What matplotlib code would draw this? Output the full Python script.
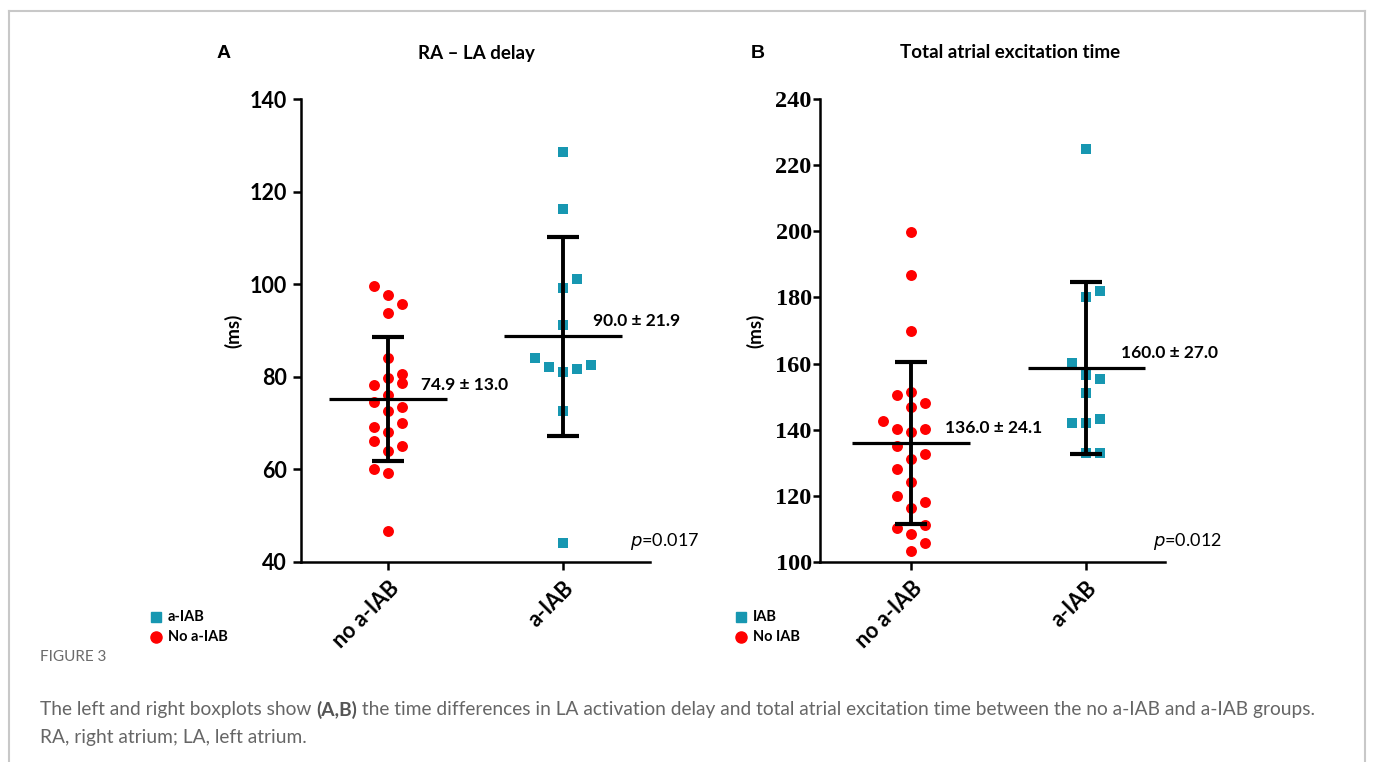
import matplotlib
matplotlib.use("Agg")
import matplotlib.pyplot as plt
import numpy as np

# ---------------- data ----------------
categories = ["no a-IAB", "a-IAB"]

# Panel A: RA - LA delay (ms)
a_no_vals = [99.6, 97.6, 95.7, 93.7, 84.1, 80.6, 79.7, 78.7, 78.2, 76.1, 74.6,
             73.5, 72.6, 70.0, 69.2, 68.1, 66.1, 65.1, 64.0, 60.1, 59.2, 46.6]
a_no_cols = [-1, 0, 1, 0, 0, 1, 0, 1, -1, 0, -1, 1, 0, 1, -1, 0, -1, 1, 0, -1, 0, 0]
a_iab_vals = [128.6, 116.2, 101.2, 99.1, 91.1, 84.1, 82.1, 82.6, 81.6, 81.1, 72.6, 44.1]
a_iab_cols = [0, 0, 1, 0, 0, -2, -1, 2, 1, 0, 0, 0]
a_means = [75.2, 88.8]
a_sds = [13.35, 21.5]
a_labels = ["74.9 ± 13.0", "90.0 ± 21.9"]
a_p = "0.017"

# Panel B: Total atrial excitation time (ms)
b_no_vals = [199.8, 186.9, 170.0, 150.5, 151.5, 148.0, 147.0, 142.7, 140.1, 139.4,
             140.1, 135.1, 132.7, 131.1, 128.1, 124.1, 120.1, 118.2, 116.2, 110.2,
             111.2, 108.6, 105.6, 103.2]
b_no_cols = [0, 0, 0, -1, 0, 1, 0, -2, -1, 0, 1, -1, 1, 0, -1, 0, -1, 1, 0, -1, 1, 0, 1, 0]
b_iab_vals = [224.8, 181.9, 180.0, 160.1, 156.5, 155.2, 151.0, 142.1, 142.1, 143.2, 133.1, 133.1]
b_iab_cols = [0, 1, 0, -1, 0, 1, 0, -1, 0, 1, 0, 1]
b_means = [135.9, 158.7]
b_sds = [24.5, 26.1]
b_labels = ["136.0 ± 24.1", "160.0 ± 27.0"]
b_p = "0.012"

RED = "#ff0000"
TEAL = "#1797b1"
SANS = ["Lato", "DejaVu Sans"]

W, H = 1375, 762
fig = plt.figure(figsize=(W / 100, H / 100), dpi=100)

# border (top, left, right only)
for xs, ys in (([9, 9], [762, 11]), ([9, 1365], [11, 11]), ([1365, 1365], [11, 762])):
    fig.lines.append(plt.Line2D([x / W for x in xs], [1 - y / H for y in ys],
                                color="#c8c8c8", linewidth=1.5,
                                transform=fig.transFigure))


def px_axes(x0, x1, ytop, ybot):
    return fig.add_axes([x0 / W, 1 - ybot / H, (x1 - x0) / W, (ybot - ytop) / H])


def draw_panel(ax, no_vals, no_cols, iab_vals, iab_cols, means, sds, ylim, yticks,
               tick_font, tick_size):
    step = 0.08
    ax.scatter(np.array(no_cols) * step + 0, no_vals, s=62, marker="o", color=RED,
               linewidths=0, zorder=2)
    ax.scatter(np.array(iab_cols) * step + 1, iab_vals, s=52, marker="s", color=TEAL,
               linewidths=0, zorder=2)
    for i, (m, sd) in enumerate(zip(means, sds)):
        ax.plot([i - 0.335, i + 0.335], [m, m], color="black", lw=2.3, zorder=3,
                solid_capstyle="butt")
        ax.plot([i, i], [m - sd, m + sd], color="black", lw=2.8, zorder=3,
                solid_capstyle="butt")
        for y in (m - sd, m + sd):
            ax.plot([i - 0.09, i + 0.09], [y, y], color="black", lw=3.0, zorder=3,
                    solid_capstyle="butt")
    ax.set_ylim(*ylim)
    ax.set_yticks(yticks)
    ax.set_xticks([0, 1])
    ax.set_xticklabels(categories, rotation=45, ha="right", va="top",
                       rotation_mode="anchor", fontsize=15.5, fontweight="bold",
                       family=SANS)
    for lab in ax.get_yticklabels():
        lab.set_family(tick_font)
        lab.set_fontsize(tick_size)
        lab.set_fontweight("bold")
    for s in ("top", "right"):
        ax.spines[s].set_visible(False)
    for s in ("left", "bottom"):
        ax.spines[s].set_linewidth(1.8)
    ax.tick_params(axis="both", width=1.8, length=6, pad=4)
    ax.tick_params(axis="x", pad=5)


# Panel A
axA = px_axes(301, 650, 99, 562)
axA.set_xlim(-0.497, 1.497)
draw_panel(axA, a_no_vals, a_no_cols, a_iab_vals, a_iab_cols, a_means, a_sds,
           (40, 140), [40, 60, 80, 100, 120, 140], SANS, 15.5)
axA.set_ylabel("(ms)", fontsize=13.5, fontweight="bold", family=SANS, labelpad=5)
axA.text(0.187, 78.2, a_labels[0], fontsize=12.5, fontweight="bold", family=SANS,
         va="center", ha="left")
axA.text(1.17, 92.1, a_labels[1], fontsize=12.5, fontweight="bold", family=SANS,
         va="center", ha="left")
axA.text(1.383, 44.5, r"$\it{p}$" + "=" + a_p, fontsize=13, family=SANS,
         va="center", ha="left")

# Panel B
axB = px_axes(820, 1165, 99, 562)
axB.set_xlim(-0.52, 1.45)
draw_panel(axB, b_no_vals, b_no_cols, b_iab_vals, b_iab_cols, b_means, b_sds,
           (100, 240), [100, 120, 140, 160, 180, 200, 220, 240],
           ["Liberation Serif", "DejaVu Serif"], 17.5)
axB.tick_params(axis="y", length=5, pad=1)
axB.set_ylabel("(ms)", fontsize=13.5, fontweight="bold", family=SANS, labelpad=8)
axB.text(0.194, 140.6, b_labels[0], fontsize=12.5, fontweight="bold", family=SANS,
         va="center", ha="left")
axB.text(1.198, 163.3, b_labels[1], fontsize=12.5, fontweight="bold", family=SANS,
         va="center", ha="left")
axB.text(1.383, 106.3, r"$\it{p}$" + "=" + b_p, fontsize=13, family=SANS,
         va="center", ha="left")

# titles and panel letters
fig.text(224 / W, 1 - 54 / H, "A", fontsize=14, fontweight="bold",
         family=["Liberation Sans"], ha="center", va="center")
fig.text(758 / W, 1 - 54 / H, "B", fontsize=14, fontweight="bold",
         family=["Liberation Sans"], ha="center", va="center")
fig.text(476 / W, 1 - 53 / H, "RA – LA delay", fontsize=13.5, fontweight="bold",
         family=SANS, ha="center", va="center")
fig.text(1010 / W, 1 - 53 / H, "Total atrial excitation time", fontsize=13.5,
         fontweight="bold", family=SANS, ha="center", va="center")


# legends (manual, as in the figure)
def legend(x_marker, x_text, items):
    for (y, marker, color, label, size) in items:
        fig.lines.append(plt.Line2D([x_marker / W], [1 - y / H], marker=marker,
                                    color=color, markersize=size, linestyle="none",
                                    transform=fig.transFigure))
        fig.text(x_text / W, 1 - y / H, label, fontsize=10.5, fontweight="bold",
                 family=SANS, ha="left", va="center")


legend(156, 168, [(617, "s", TEAL, "a-IAB", 7.0), (637, "o", RED, "No a-IAB", 8.0)])
legend(741, 753, [(617, "s", TEAL, "IAB", 7.0), (637, "o", RED, "No IAB", 8.0)])

# caption
fig.text(40 / W, 1 - 657 / H, "FIGURE 3", fontsize=11, color="#6b6b6b",
         family=SANS, ha="left", va="center")
CAP = 13.8
cap_y1 = 1 - 710 / H
t1 = fig.text(40 / W, cap_y1, "The left and right boxplots show ", fontsize=CAP,
              color="#666666", family=SANS, ha="left", va="center")
fig.canvas.draw()
r = fig.canvas.get_renderer()
bb = t1.get_window_extent(r)
t2 = fig.text(bb.x1 / W, cap_y1, "(A,B)", fontsize=CAP, color="#555555",
              fontweight="bold", family=SANS, ha="left", va="center")
bb2 = t2.get_window_extent(r)
fig.text(bb2.x1 / W, cap_y1,
         " the time differences in LA activation delay and total atrial excitation "
         "time between the no a-IAB and a-IAB groups.",
         fontsize=CAP, color="#666666", family=SANS, ha="left", va="center")
fig.text(40 / W, 1 - 737 / H, "RA, right atrium; LA, left atrium.", fontsize=CAP,
         color="#666666", family=SANS, ha="left", va="center")

fig.savefig("out.png", dpi=100)
